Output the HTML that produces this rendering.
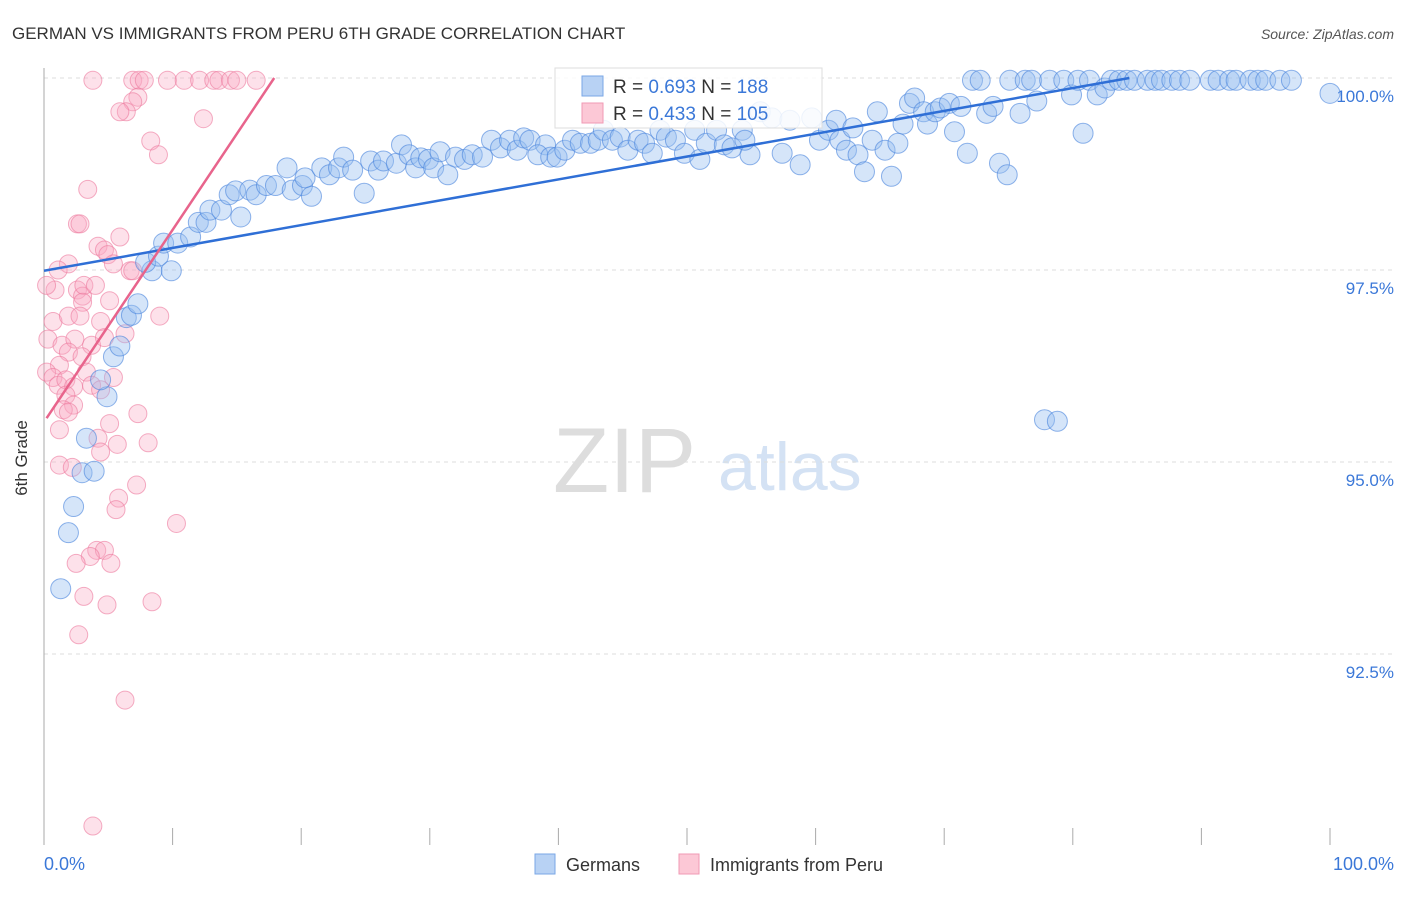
<!DOCTYPE html>
<html><head><meta charset="utf-8"><style>
body{margin:0;background:#fff;font-family:"Liberation Sans",sans-serif;}
svg text{font-family:"Liberation Sans",sans-serif;}
</style></head><body>
<svg id="chart" width="1406" height="892" viewBox="0 0 1406 892" xmlns="http://www.w3.org/2000/svg">
<text x="12" y="39" font-size="17" fill="#333">GERMAN VS IMMIGRANTS FROM PERU 6TH GRADE CORRELATION CHART</text>
<text x="1394" y="39" font-size="14" fill="#555" font-style="italic" text-anchor="end">Source: ZipAtlas.com</text>
<g>
<text x="553" y="492" font-size="92" fill="#ddd" font-family="Liberation Serif, serif">ZIP</text>
<text x="718" y="490" font-size="68" fill="#d4e2f4">atlas</text>
</g>
<g id="grid"></g>
<g id="axes"></g>
<g id="pts"></g>
<g id="trend"></g>
<g>
<rect x="555" y="68" width="267" height="60" fill="#fff" fill-opacity="0.85" stroke="#ddd"/>
<rect x="582" y="76" width="21" height="20" fill="#b8d2f4" stroke="#7aa7e6"/>
<rect x="582" y="103" width="21" height="20" fill="#fcc8d6" stroke="#f09ab4"/>
<text x="613" y="93" font-size="19" fill="#333">R = <tspan fill="#3b78d8">0.693</tspan>   N = <tspan fill="#3b78d8">188</tspan></text>
<text x="613" y="120" font-size="19" fill="#333">R = <tspan fill="#3b78d8">0.433</tspan>   N = <tspan fill="#3b78d8">105</tspan></text>
</g>
<g>
<rect x="535" y="854" width="20" height="20" fill="#b8d2f4" stroke="#7aa7e6"/>
<text x="566" y="871" font-size="18" fill="#333">Germans</text>
<rect x="679" y="854" width="20" height="20" fill="#fcc8d6" stroke="#f09ab4"/>
<text x="710" y="871" font-size="18" fill="#333">Immigrants from Peru</text>
</g>
<text x="27" y="458" font-size="17" fill="#333" transform="rotate(-90 27 458)" text-anchor="middle">6th Grade</text>
</svg>
<script>
const yTicks=[100,97.5,95,92.5];
const yTickLabels=["100.0%","97.5%","95.0%","92.5%"];
const xTickLabels=["0.0%","100.0%"];
const germans=[[1.3,93.35],[1.9,94.08],[2.3,94.42],[2.96,94.86],[3.9,94.88],[3.3,95.31],[4.9,95.85],[4.4,96.07],[5.4,96.37],[5.9,96.51],[6.4,96.88],[6.8,96.91],[7.3,97.06],[8.4,97.49],[9.9,97.49],[7.9,97.6],[8.9,97.68],[9.3,97.85],[10.4,97.85],[11.4,97.93],[12.0,98.12],[12.6,98.12],[12.9,98.28],[13.8,98.28],[15.3,98.19],[14.4,98.48],[14.9,98.53],[16.0,98.54],[16.5,98.48],[17.3,98.6],[18.0,98.6],[18.9,98.83],[19.3,98.54],[20.1,98.6],[20.8,98.46],[20.3,98.7],[21.6,98.83],[22.2,98.74],[22.9,98.83],[23.3,98.97],[24.0,98.8],[24.9,98.5],[25.4,98.92],[26.0,98.8],[26.4,98.92],[27.4,98.89],[27.8,99.13],[28.4,99.0],[28.9,98.83],[29.3,98.96],[29.9,98.94],[30.3,98.83],[30.8,99.04],[31.4,98.74],[32.0,98.97],[32.7,98.94],[33.3,99.0],[34.1,98.97],[34.8,99.19],[35.5,99.09],[36.2,99.19],[36.8,99.06],[37.3,99.22],[37.8,99.19],[39.0,99.13],[38.4,99.0],[39.4,98.97],[39.9,98.97],[40.5,99.06],[41.1,99.19],[41.7,99.15],[42.5,99.15],[43.1,99.19],[43.5,99.32],[44.2,99.19],[44.8,99.23],[45.4,99.06],[46.2,99.19],[46.7,99.15],[47.3,99.02],[47.9,99.32],[48.4,99.23],[49.1,99.19],[49.8,99.02],[50.6,99.32],[51.0,98.94],[51.5,99.15],[52.3,99.32],[52.9,99.13],[53.5,99.09],[54.3,99.32],[54.9,99.0],[54.5,99.19],[55.7,99.56],[56.6,99.48],[57.4,99.02],[58.0,99.45],[58.8,98.87],[59.7,99.48],[60.3,99.19],[61.0,99.32],[61.6,99.45],[61.9,99.19],[62.4,99.06],[62.9,99.35],[63.3,99.0],[63.8,98.78],[64.4,99.19],[64.8,99.56],[65.4,99.06],[65.9,98.72],[66.4,99.15],[66.8,99.4],[67.3,99.67],[67.7,99.74],[68.4,99.56],[68.7,99.4],[69.3,99.56],[69.7,99.61],[70.4,99.67],[70.8,99.3],[71.3,99.63],[71.8,99.02],[72.2,99.97],[72.8,99.97],[73.3,99.54],[73.8,99.63],[74.3,98.89],[74.9,98.74],[75.1,99.97],[75.9,99.54],[76.3,99.97],[76.8,99.97],[77.2,99.7],[77.8,95.55],[78.2,99.97],[78.8,95.53],[79.3,99.97],[79.9,99.78],[80.4,99.97],[80.8,99.28],[81.3,99.97],[81.9,99.78],[82.5,99.87],[83.0,99.97],[83.6,99.97],[84.2,99.97],[84.8,99.97],[85.8,99.97],[86.4,99.97],[86.9,99.97],[87.7,99.97],[88.3,99.97],[89.1,99.97],[90.7,99.97],[91.3,99.97],[92.2,99.97],[92.7,99.97],[93.8,99.97],[94.4,99.97],[95.0,99.97],[96.1,99.97],[97.0,99.97],[100,99.8]];
const peru=[[3.8,99.97],[6.9,99.97],[7.4,99.97],[7.8,99.97],[9.6,99.97],[10.9,99.97],[12.1,99.97],[13.2,99.97],[13.6,99.97],[14.5,99.97],[15.0,99.97],[16.5,99.97],[7.3,99.75],[6.9,99.69],[6.4,99.56],[5.9,99.56],[12.4,99.47],[8.3,99.18],[8.9,99.0],[3.4,98.55],[2.6,98.1],[2.8,98.1],[5.9,97.93],[4.2,97.81],[4.7,97.76],[4.97,97.7],[5.4,97.58],[6.7,97.49],[6.9,97.49],[1.9,97.58],[1.1,97.5],[0.86,97.24],[0.2,97.3],[2.6,97.24],[3.0,97.16],[3.1,97.3],[4.0,97.3],[3.0,97.08],[5.1,97.1],[9.0,96.9],[0.7,96.83],[1.9,96.9],[2.8,96.9],[4.4,96.83],[6.3,96.67],[0.3,96.6],[1.4,96.52],[2.4,96.6],[3.7,96.52],[4.7,96.62],[1.9,96.43],[2.96,96.37],[1.2,96.26],[3.3,96.17],[0.2,96.17],[0.7,96.1],[1.1,96.0],[1.7,96.07],[2.3,95.98],[3.7,96.0],[5.4,96.1],[1.7,95.87],[2.3,95.74],[1.5,95.68],[1.9,95.65],[4.4,95.94],[1.2,95.42],[7.3,95.63],[5.1,95.5],[4.2,95.31],[5.7,95.23],[8.1,95.25],[4.4,95.13],[1.2,94.96],[2.2,94.93],[7.2,94.7],[5.8,94.53],[5.6,94.38],[10.3,94.2],[4.1,93.85],[4.7,93.85],[3.6,93.77],[2.5,93.68],[5.2,93.68],[3.1,93.25],[4.9,93.14],[8.4,93.18],[2.7,92.75],[6.3,91.9],[3.8,90.26]];
const germansTrend=[[0,97.49],[84.4,100]];
const peruTrend=[[0.2,95.57],[17.9,100]];

const NS="http://www.w3.org/2000/svg";
const X=v=>44+v*12.86;
const Y=v=>78+(100-v)*76.8;
function mk(tag,attrs,parent){const e=document.createElementNS(NS,tag);for(const k in attrs)e.setAttribute(k,attrs[k]);parent.appendChild(e);return e;}
const grid=document.getElementById('grid'),axes=document.getElementById('axes'),pts=document.getElementById('pts'),tr=document.getElementById('trend');
yTicks.forEach((t,i)=>{
  const l=mk('line',{x1:44,x2:1394,y1:Y(t),y2:Y(t),stroke:'#ddd','stroke-dasharray':'4 4'},grid);
  
  
  const tx=mk('text',{x:1394,y:Y(t)+24,'font-size':17,fill:'#3b78d8','text-anchor':'end'},axes);
  tx.textContent=yTickLabels[i];
  
  
});
const ax=mk('line',{x1:44,x2:44,y1:68,y2:845,stroke:'#aaa'},axes);


for(let i=0;i<=10;i++){
  const t=mk('line',{x1:X(i*10),x2:X(i*10),y1:828,y2:845,stroke:'#aaa'},axes);
  
  
}
const x0=mk('text',{x:44,y:870,'font-size':18,fill:'#3b78d8'},axes);x0.textContent=xTickLabels[0];


const x1=mk('text',{x:1394,y:870,'font-size':18,fill:'#3b78d8','text-anchor':'end'},axes);x1.textContent=xTickLabels[1];


peru.forEach(p=>{
  const c=mk('circle',{cx:X(p[0]),cy:Y(p[1]),r:9,fill:'rgba(248,170,196,0.35)',stroke:'rgba(236,120,156,0.6)','stroke-width':1},pts);
  
  
});
germans.forEach(p=>{
  const c=mk('circle',{cx:X(p[0]),cy:Y(p[1]),r:10,fill:'rgba(150,190,240,0.4)',stroke:'rgba(70,130,220,0.6)','stroke-width':1},pts);
  
  
});
const gt=mk('line',{x1:X(germansTrend[0][0]),y1:Y(germansTrend[0][1]),x2:X(germansTrend[1][0]),y2:Y(germansTrend[1][1]),stroke:'#2f6fd6','stroke-width':2.5},tr);


const pt=mk('line',{x1:X(peruTrend[0][0]),y1:Y(peruTrend[0][1]),x2:X(peruTrend[1][0]),y2:Y(peruTrend[1][1]),stroke:'#e8648c','stroke-width':2.5},tr);


</script>
</body></html>
